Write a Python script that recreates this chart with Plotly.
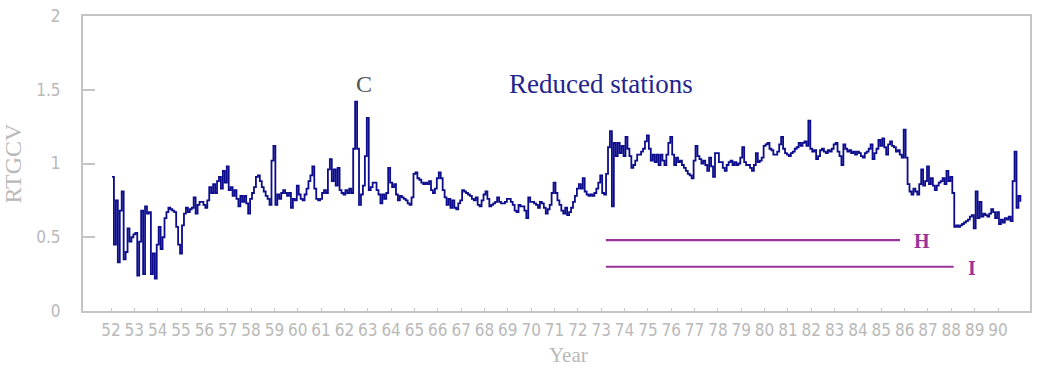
import plotly.graph_objects as go

# Monthly RTGCV values, one list per decade (Jan..Dec for each year)
years = list(range(52, 91))

rtgcv_1950s = [
    0.91, 0.45, 0.75, 0.33, 0.68, 0.81, 0.35, 0.40, 0.56, 0.47, 0.50, 0.52,  # 52
    0.53, 0.24, 0.47, 0.68, 0.25, 0.71, 0.66, 0.67, 0.25, 0.39, 0.22, 0.45,  # 53
    0.57, 0.42, 0.50, 0.63, 0.67, 0.70, 0.69, 0.68, 0.67, 0.57, 0.45, 0.39,  # 54
    0.58, 0.66, 0.70, 0.67, 0.69, 0.70, 0.77, 0.66, 0.72, 0.74, 0.74, 0.72,  # 55
    0.70, 0.75, 0.84, 0.80, 0.86, 0.80, 0.88, 0.91, 0.83, 0.95, 0.87, 0.98,  # 56
    0.82, 0.84, 0.78, 0.82, 0.76, 0.71, 0.78, 0.74, 0.78, 0.73, 0.66, 0.76,  # 57
    0.80, 0.84, 0.91, 0.92, 0.88, 0.84, 0.81, 0.78, 0.76, 0.72, 1.02, 1.12,  # 58
    0.72, 0.79, 0.76, 0.80, 0.82, 0.80, 0.78, 0.80, 0.70, 0.76, 0.75, 0.85,  # 59
]
rtgcv_1960s = [
    0.79, 0.76, 0.75, 0.79, 0.83, 0.88, 0.92, 0.98, 0.83, 0.76, 0.75, 0.76,  # 60
    0.80, 0.82, 0.80, 0.96, 1.03, 0.88, 0.96, 0.85, 0.97, 0.82, 0.80, 0.79,  # 61
    0.82, 0.80, 0.83, 0.80, 1.10, 1.42, 1.10, 0.72, 0.79, 0.85, 1.05, 1.31,  # 62
    0.82, 0.84, 0.87, 0.87, 0.82, 0.79, 0.73, 0.79, 0.76, 0.80, 0.97, 0.87,  # 63
    0.84, 0.86, 0.79, 0.75, 0.78, 0.77, 0.76, 0.75, 0.73, 0.72, 0.77, 0.93,  # 64
    0.94, 0.90, 0.89, 0.87, 0.86, 0.87, 0.86, 0.88, 0.82, 0.80, 0.83, 0.90,  # 65
    0.94, 0.90, 0.82, 0.77, 0.72, 0.76, 0.70, 0.75, 0.70, 0.69, 0.73, 0.75,  # 66
    0.82, 0.81, 0.80, 0.79, 0.78, 0.76, 0.75, 0.77, 0.72, 0.71, 0.75, 0.79,  # 67
    0.81, 0.76, 0.71, 0.72, 0.73, 0.74, 0.77, 0.74, 0.73, 0.73, 0.74, 0.76,  # 68
    0.76, 0.74, 0.72, 0.68, 0.67, 0.72, 0.71, 0.71, 0.68, 0.63, 0.77, 0.74,  # 69
]
rtgcv_1970s = [
    0.74, 0.73, 0.72, 0.70, 0.74, 0.73, 0.70, 0.66, 0.69, 0.72, 0.80, 0.87,  # 70
    0.80, 0.75, 0.72, 0.68, 0.66, 0.70, 0.65, 0.67, 0.70, 0.74, 0.78, 0.83,  # 71
    0.86, 0.83, 0.90, 0.81, 0.79, 0.78, 0.79, 0.78, 0.80, 0.83, 0.87, 0.92,  # 72
    0.80, 0.79, 0.93, 1.11, 1.22, 0.71, 1.14, 1.05, 1.14, 1.07, 1.12, 1.05,  # 73
    1.18, 1.10, 1.05, 0.97, 0.99, 1.02, 1.06, 1.06, 1.08, 1.10, 1.15, 1.19,  # 74
    1.10, 1.02, 1.06, 1.01, 1.06, 0.99, 1.06, 1.02, 0.99, 1.06, 1.14, 1.18,  # 75
    1.06, 0.99, 1.04, 1.01, 1.02, 0.99, 0.97, 0.95, 0.93, 0.92, 0.90, 1.02,  # 76
    1.12, 1.05, 1.03, 1.00, 1.02, 0.99, 0.95, 1.04, 0.98, 0.91, 1.07, 1.07,  # 77
    1.01, 1.01, 0.97, 0.95, 0.99, 1.01, 1.02, 0.99, 1.01, 0.99, 1.00, 1.04,  # 78
    1.11, 1.01, 0.99, 0.99, 0.97, 0.95, 0.99, 1.07, 1.01, 1.02, 1.04, 1.12,  # 79
]
rtgcv_1980s = [
    1.13, 1.14, 1.10, 1.09, 1.06, 1.06, 1.08, 1.13, 1.18, 1.10, 1.07, 1.06,  # 80
    1.05, 1.07, 1.08, 1.10, 1.11, 1.14, 1.12, 1.14, 1.15, 1.12, 1.29, 1.10,  # 81
    1.08, 1.09, 1.03, 1.05, 1.09, 1.10, 1.08, 1.07, 1.09, 1.08, 1.10, 1.13,  # 82
    1.14, 1.08, 1.05, 0.99, 1.13, 1.10, 1.08, 1.09, 1.07, 1.08, 1.06, 1.08,  # 83
    1.07, 1.05, 1.04, 1.07, 1.08, 1.10, 1.13, 1.03, 1.07, 1.10, 1.16, 1.12,  # 84
    1.17, 1.11, 1.06, 1.13, 1.15, 1.12, 1.11, 1.08, 1.09, 1.06, 1.04, 1.23,  # 85
    1.04, 0.86, 0.81, 0.79, 0.83, 0.81, 0.79, 0.86, 0.96, 0.85, 0.88, 0.98,  # 86
    0.86, 0.90, 0.85, 0.82, 0.85, 0.87, 0.88, 0.90, 0.86, 0.95, 0.88, 0.91,  # 87
    0.80, 0.57, 0.58, 0.57, 0.58, 0.59, 0.60, 0.61, 0.62, 0.64, 0.65, 0.56,  # 88
    0.81, 0.63, 0.74, 0.64, 0.66, 0.65, 0.64, 0.66, 0.69, 0.67, 0.63, 0.67,  # 89
]
rtgcv_1990 = [0.59, 0.62, 0.60, 0.63, 0.62, 0.64, 0.61, 0.88, 1.08, 0.70, 0.78, 0.74]

# Station-reduction periods (start year, end year, level, label)
period_labels = ["H", "I"]
period_start = [73.2, 73.2]
period_end = [85.8, 88.1]
period_level = [0.48, 0.30]

y_tick_vals = [0, 0.5, 1, 1.5, 2]
y_tick_text = ["0", "0.5", "1", "1.5", "2"]

rtgcv = rtgcv_1950s + rtgcv_1960s + rtgcv_1970s + rtgcv_1980s + rtgcv_1990
months = [yr + (m + 0.5) / 12 for yr in years for m in range(12)]

AXIS_GREY = "#c4c4c4"
TEXT_GREY = "#b9b9b9"
NAVY = "#0c0c8c"
PURPLE = "#993399"

fig = go.Figure()
fig.add_trace(go.Scatter(x=months, y=rtgcv, mode="lines",
                         line=dict(color=NAVY, width=1.8, shape="hv"),
                         hoverinfo="skip", showlegend=False))

for lab, x0, x1, lv in zip(period_labels, period_start, period_end, period_level):
    fig.add_trace(go.Scatter(x=[x0, x1], y=[lv, lv], mode="lines",
                             line=dict(color=PURPLE, width=2.2),
                             hoverinfo="skip", showlegend=False))
    fig.add_annotation(x=x1, y=lv, text=f"<b>{lab}</b>", showarrow=False,
                       xanchor="left", xshift=12, yshift=-1,
                       font=dict(family="Liberation Serif", size=20, color=PURPLE))

fig.add_annotation(x=62.85, y=1.44, text="C", showarrow=False, yanchor="bottom",
                   font=dict(family="Liberation Serif", size=24, color="#555555"))
fig.add_annotation(x=73.0, y=1.54, text="Reduced stations", showarrow=False,
                   font=dict(family="Liberation Serif", size=27, color="#23238e"))

tick_font = dict(family="Liberation Sans Narrow, DejaVu Sans Condensed, sans-serif",
                 size=17, color=TEXT_GREY)
title_font = dict(family="Liberation Serif", size=24, color=TEXT_GREY)

# x-axis title, placed slightly right of the plot centre
fig.add_annotation(x=71.6, xref="x", y=0, yref="paper", yanchor="top",
                   yshift=-30, text="Year", showarrow=False,
                   font=dict(family="Liberation Serif", size=21, color=TEXT_GREY))

fig.update_layout(
    width=1044, height=369,
    margin=dict(l=83, r=14, t=16, b=58),
    paper_bgcolor="white", plot_bgcolor="white",
    xaxis=dict(
        range=[50.8, 91.37], tickmode="array", tickvals=years,
        ticktext=[str(y) for y in years], ticks="inside", ticklen=3,
        tickcolor=AXIS_GREY, tickwidth=1, showgrid=False, zeroline=False,
        showline=True, linecolor=AXIS_GREY, linewidth=2, mirror=True,
        tickfont=tick_font, ticklabelstandoff=3, automargin=False,
    ),
    yaxis=dict(
        range=[0, 2], tickmode="array", tickvals=y_tick_vals, ticktext=y_tick_text,
        ticks="inside", ticklen=12, tickcolor=AXIS_GREY, tickwidth=2,
        showgrid=False, zeroline=False, showline=True, linecolor=AXIS_GREY,
        linewidth=2, mirror=True, tickfont=tick_font, ticklabelstandoff=17,
        automargin=False,
        title=dict(text="RTGCV", font=title_font, standoff=8),
    ),
)

fig.write_html("out.html")
